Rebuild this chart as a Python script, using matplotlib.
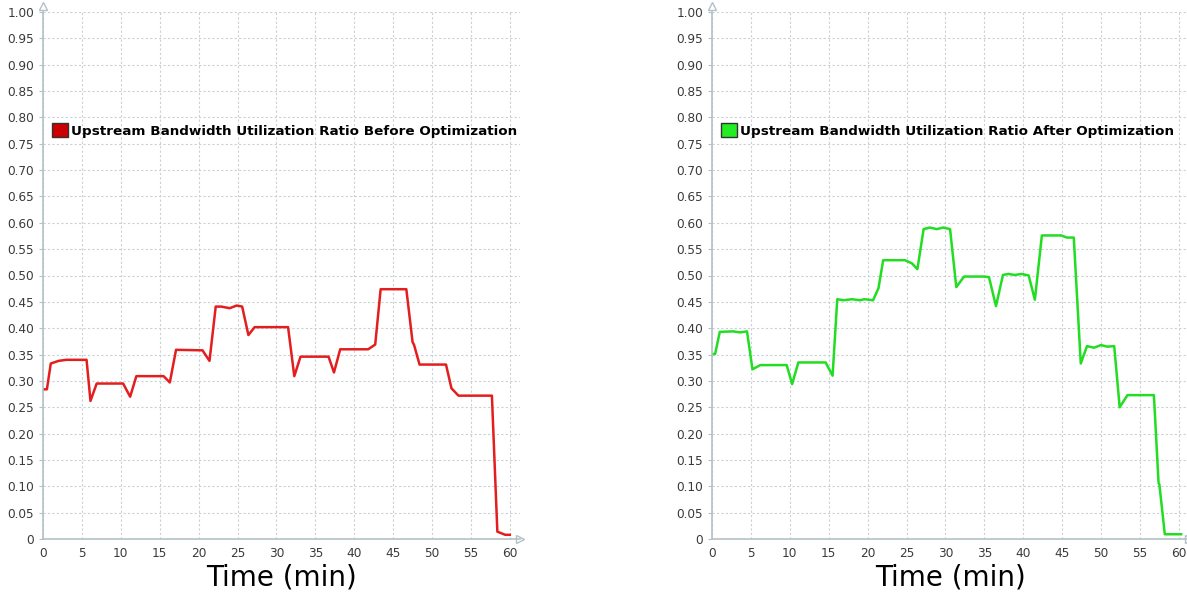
import matplotlib
matplotlib.use("Agg")
import matplotlib.pyplot as plt
from matplotlib.patches import Patch
import numpy as np

# Upstream bandwidth utilization over one hour
t_before = [0, 0.5, 1.0, 2.0, 3.0, 5.6, 6.1, 6.9, 10.3, 11.2, 12.0, 15.5, 16.3, 17.1,
            20.5, 21.4, 22.2, 22.9, 24.0, 24.9, 25.6, 26.4, 27.2, 31.5, 32.3, 33.1,
            36.7, 37.4, 38.2, 41.8, 42.7, 43.4, 46.7, 47.5, 47.7, 48.4, 51.8, 52.5,
            53.4, 57.7, 58.4, 59.4, 60.0]
v_before = [0.284, 0.284, 0.333, 0.338, 0.340, 0.340, 0.262, 0.295, 0.295, 0.270,
            0.309, 0.309, 0.297, 0.359, 0.358, 0.338, 0.441, 0.441, 0.438, 0.443,
            0.441, 0.387, 0.402, 0.402, 0.309, 0.346, 0.346, 0.316, 0.360, 0.360,
            0.369, 0.474, 0.474, 0.374, 0.368, 0.331, 0.331, 0.286, 0.272, 0.272,
            0.014, 0.008, 0.008]

t_after = [0, 0.4, 1.0, 2.7, 3.6, 4.5, 5.2, 6.2, 9.6, 10.3, 11.1, 14.6, 15.5, 16.1,
           16.9, 18.0, 19.0, 19.6, 20.7, 21.4, 22.0, 24.8, 25.7, 26.4, 27.2, 28.0,
           28.9, 29.7, 30.6, 31.4, 32.4, 34.9, 35.6, 36.5, 37.4, 38.1, 38.9, 39.8,
           40.7, 41.5, 42.4, 44.9, 45.6, 46.5, 47.4, 48.2, 49.1, 50.0, 50.8, 51.7,
           52.4, 53.4, 56.8, 57.4, 57.5, 58.2, 60.3]
v_after = [0.351, 0.351, 0.393, 0.394, 0.392, 0.394, 0.322, 0.330, 0.330, 0.294,
           0.335, 0.335, 0.310, 0.455, 0.453, 0.455, 0.453, 0.455, 0.453, 0.476,
           0.529, 0.529, 0.523, 0.512, 0.588, 0.591, 0.588, 0.591, 0.588, 0.478,
           0.498, 0.498, 0.497, 0.442, 0.501, 0.503, 0.501, 0.503, 0.500, 0.454,
           0.576, 0.576, 0.572, 0.572, 0.333, 0.366, 0.363, 0.368, 0.365, 0.366,
           0.250, 0.273, 0.273, 0.106, 0.104, 0.009, 0.009]

x_ticks = list(range(0, 61, 5))
y_ticks = [round(0.05 * i, 2) for i in range(21)]
y_labels = ["0"] + [f"{v:.2f}" for v in y_ticks[1:]]

W, H = 1187, 598
fig = plt.figure(figsize=(W / 100, H / 100), dpi=100)

axis_col = "#b4c0c8"
grid_col = "#c9d1d8"
tick_col = "#3a3a3a"


def panel(left_px, t, v, line_col, patch_col, label):
    px_per_min = 7.78
    xmax = 61.3
    ax = fig.add_axes([left_px / W, 59 / H, xmax * px_per_min / W, 527 / H])
    ax.plot(t, v, color=line_col, lw=1.8, solid_joinstyle="round")
    ax.set_xlim(0, xmax)
    ax.set_ylim(0, 1.0)
    ax.set_xticks(x_ticks)
    ax.set_yticks(y_ticks)
    ax.set_yticklabels(y_labels)
    ax.grid(True, color=grid_col, linestyle=(0, (2, 2)), lw=0.8)
    for s in ("top", "right"):
        ax.spines[s].set_visible(False)
    for s in ("left", "bottom"):
        ax.spines[s].set_color(axis_col)
        ax.spines[s].set_linewidth(1.2)
    ax.tick_params(axis="both", colors=axis_col, length=3, labelsize=8.7,
                   labelcolor=tick_col)
    ax.tick_params(axis="x", length=0, pad=6)
    # arrow heads at the axis ends
    ax.plot([1.0], [0], marker=">", ms=6, mfc="white", mec=axis_col,
            transform=ax.transAxes, clip_on=False)
    ax.plot([0], [1.012], marker="^", ms=6, mfc="white", mec=axis_col,
            transform=ax.transAxes, clip_on=False)
    ax.set_xlabel("Time (min)", fontsize=20, color="black", labelpad=2)
    handle = Patch(facecolor=patch_col, edgecolor="#333333", linewidth=1)
    ax.legend([handle], [label], loc="center left",
              bbox_to_anchor=(0.0, 0.775), frameon=False,
              handlelength=1.15, handleheight=1.15, handletextpad=0.25,
              borderaxespad=0.3,
              prop={"weight": "bold", "size": 9.7})
    return ax


panel(43, t_before, v_before, "#e31e1e", "#cc0000",
      "Upstream Bandwidth Utilization Ratio Before Optimization")
panel(712, t_after, v_after, "#22dd22", "#22ee22",
      "Upstream Bandwidth Utilization Ratio After Optimization")

fig.savefig("out.png", dpi=100)
